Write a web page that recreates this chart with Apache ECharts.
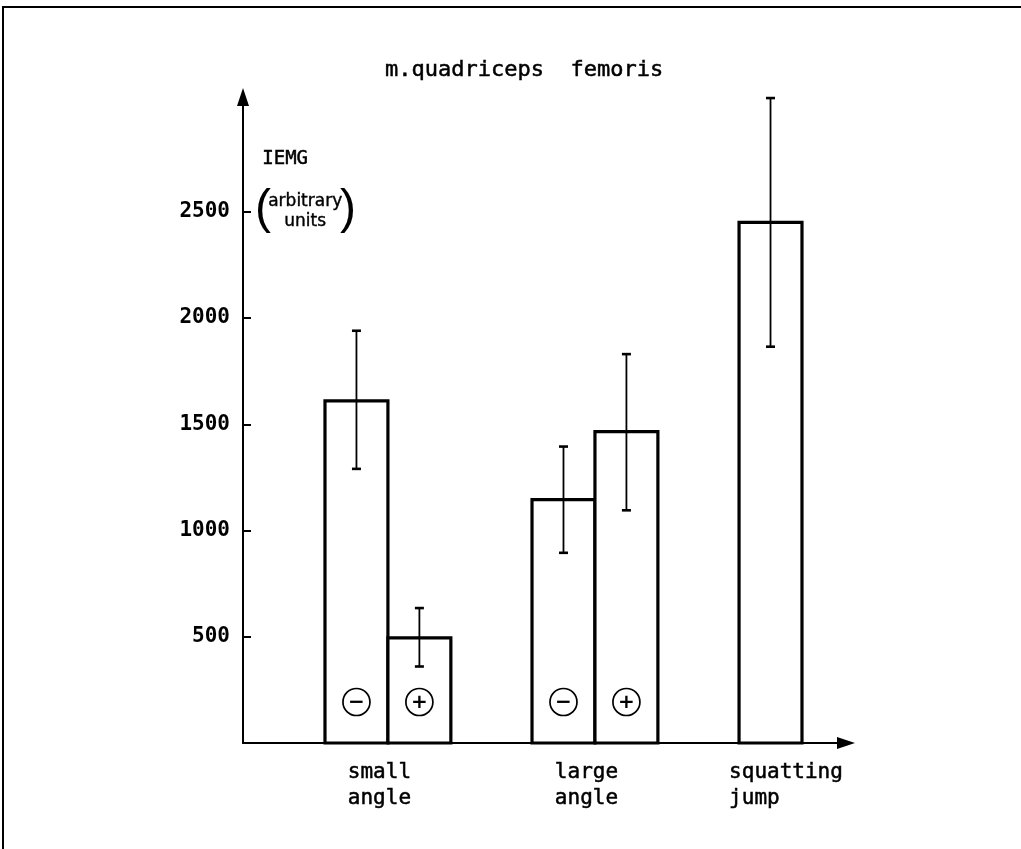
<!DOCTYPE html>
<html>
<head>
<meta charset="utf-8">
<script src="https://cdn.jsdelivr.net/npm/echarts@6/dist/echarts.min.js"></script>
<style>
  html, body { margin: 0; padding: 0; background: #fff; }
  #chart { width: 1021px; height: 849px; }
</style>
</head>
<body>
<div id="chart"></div>
<script>
// ---------------- data ----------------
const title = 'm.quadriceps  femoris';
const categories = ['small\nangle', 'large\nangle', 'squatting\njump'];
const signLabels = ['−', '+'];
const hasSign = [true, true, false];
// "−" condition (left bar of each group)
const meanMinus = [1610, 1145, 2450];
const lowMinus  = [1290, 895, 1865];
const highMinus = [1940, 1395, 3035];
// "+" condition (right bar of each group)
const meanPlus = [495, 1465, null];
const lowPlus  = [360, 1095, null];
const highPlus = [635, 1830, null];
const yTicks = [500, 1000, 1500, 2000, 2500];
const yName = 'IEMG';
const yUnit = ['arbitrary', 'units'];

// ---------------- layout / style ----------------
const FONT = 'DejaVu Sans Mono';
const INK = '#000';
const BAR_FRAC = 0.304;   // bar width as a fraction of group spacing
const HEAVY = { textBorderColor: INK, textBorderWidth: 0.5 };

function buildData(mean, low, high) {
  const out = [];
  for (let i = 0; i < mean.length; i++) {
    if (mean[i] == null) continue;
    out.push([i, mean[i], low[i], high[i], hasSign[i] ? 1 : 0]);
  }
  return out;
}

function makeRender(side, sign) {
  return function (params, api) {
    const g = api.value(0);
    const mean = api.value(1);
    const lo = api.value(2);
    const hi = api.value(3);
    const showSign = api.value(4) === 1;
    const base = api.coord([g, 0]);
    const top = api.coord([g, mean]);
    const w = api.size([BAR_FRAC, 0])[0];
    const x0 = side < 0 ? base[0] - w : base[0];
    const cx = x0 + w / 2;
    const pLo = api.coord([g, lo]);
    const pHi = api.coord([g, hi]);
    const cap = 4.5;
    const children = [
      { type: 'rect', shape: { x: x0, y: top[1], width: w, height: base[1] - top[1] },
        style: { fill: '#fff', stroke: INK, lineWidth: 3.2 } },
      { type: 'line', shape: { x1: cx, y1: pLo[1], x2: cx, y2: pHi[1] },
        style: { stroke: INK, lineWidth: 1.8 } },
      { type: 'line', shape: { x1: cx - cap, y1: pLo[1], x2: cx + cap, y2: pLo[1] },
        style: { stroke: INK, lineWidth: 2.6 } },
      { type: 'line', shape: { x1: cx - cap, y1: pHi[1], x2: cx + cap, y2: pHi[1] },
        style: { stroke: INK, lineWidth: 2.6 } }
    ];
    if (showSign) {
      const cy = base[1] - 41;
      children.push({ type: 'circle', shape: { cx: cx, cy: cy, r: 13.5 },
        style: { fill: 'none', stroke: INK, lineWidth: 1.7 } });
      children.push({ type: 'text', style: { x: cx, y: cy + 1, text: sign, fill: INK,
        font: 'bold 20px "DejaVu Sans"', align: 'center', verticalAlign: 'middle' } });
    }
    return { type: 'group', children: children };
  };
}

const chart = echarts.init(document.getElementById('chart'), null, { renderer: 'canvas' });

const richBase = { fontFamily: FONT, fontSize: 21, color: INK, align: 'left', lineHeight: 26,
  textBorderColor: INK, textBorderWidth: 0.5 };

const option = {
  backgroundColor: '#fff',
  animation: false,
  title: {
    text: title,
    left: 380,
    top: 54,
    textStyle: Object.assign({ fontFamily: FONT, fontSize: 22, fontWeight: 'normal', color: INK }, HEAVY)
  },
  grid: { left: 243, right: 175, top: 97, bottom: 106, containLabel: false },
  xAxis: {
    type: 'value',
    min: -0.7,
    max: 2.2126,
    splitLine: { show: false },
    axisTick: { show: false },
    axisLine: {
      show: true,
      onZero: false,
      lineStyle: { color: INK, width: 2 },
      symbol: ['none', 'triangle'],
      symbolSize: [12, 18]
    },
    axisLabel: {
      customValues: [0, 1, 2],
      margin: 17,
      formatter: function (v) {
        const i = Math.round(v);
        const lines = categories[i].split('\n');
        const st = i === 2 ? 'w' : 'n';
        return lines.map(function (l) { return '{' + st + '|' + l + '}'; }).join('\n');
      },
      rich: {
        n: Object.assign({ padding: [0, 17, 0, 0] }, richBase),
        w: Object.assign({ padding: [0, 32, 0, 0] }, richBase)
      }
    }
  },
  yAxis: {
    type: 'value',
    min: 0,
    max: 3040,
    splitLine: { show: false },
    axisLine: {
      show: true,
      onZero: false,
      lineStyle: { color: INK, width: 2 },
      symbol: ['none', 'triangle'],
      symbolSize: [12, 18]
    },
    axisTick: { show: true, inside: true, length: 8, customValues: yTicks,
      lineStyle: { color: INK, width: 2 } },
    axisLabel: { customValues: yTicks, margin: 13, fontFamily: FONT, fontSize: 21,
      fontWeight: 'bold', color: INK,
      formatter: function (v) { return String(v); } }
  },
  series: [
    { type: 'custom', name: signLabels[0], renderItem: makeRender(-1, signLabels[0]),
      data: buildData(meanMinus, lowMinus, highMinus), clip: false, z: 2 },
    { type: 'custom', name: signLabels[1], renderItem: makeRender(1, signLabels[1]),
      data: buildData(meanPlus, lowPlus, highPlus), clip: false, z: 2 }
  ],
  graphic: [
    { type: 'polyline', shape: { points: [[3, 849], [3, 7], [1021, 7]] },
      style: { stroke: INK, lineWidth: 2, fill: 'none' }, silent: true },
    { type: 'text', left: 262, top: 149,
      style: { text: yName, font: '19px "DejaVu Sans Mono"', fill: INK, stroke: INK, lineWidth: 0.5 } },
    { type: 'text', left: 255, top: 186,
      style: { text: '(', font: '48px "Liberation Sans"', fill: INK } },
    { type: 'text', left: 268, top: 193,
      style: { text: yUnit[0], font: '17px "DejaVu Sans"', fill: INK, stroke: INK, lineWidth: 0.4 } },
    { type: 'text', left: 284, top: 213,
      style: { text: yUnit[1], font: '17px "DejaVu Sans"', fill: INK, stroke: INK, lineWidth: 0.4 } },
    { type: 'text', left: 340, top: 186,
      style: { text: ')', font: '48px "Liberation Sans"', fill: INK } }
  ]
};

chart.setOption(option);
</script>
</body>
</html>
